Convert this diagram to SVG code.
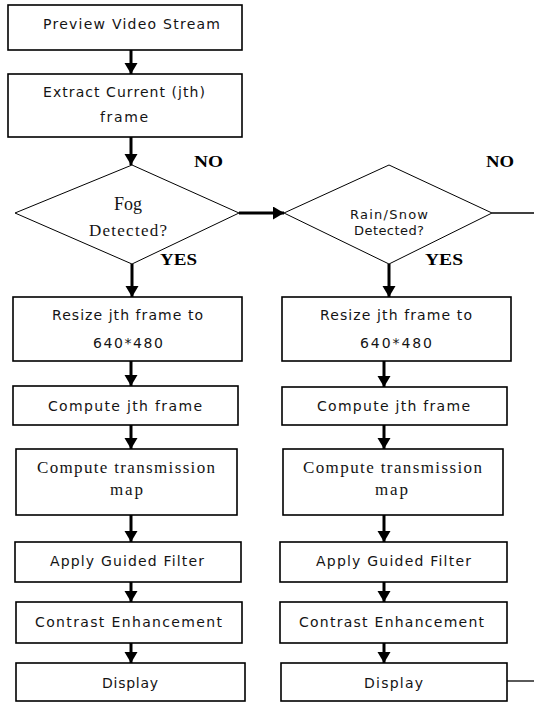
<svg xmlns="http://www.w3.org/2000/svg" width="534" height="702" viewBox="0 0 534 702">
<style>
.box{fill:#fff;stroke:#000;stroke-width:1.6}
.dia{fill:#fff;stroke:#000;stroke-width:1}
.t{font-family:"DejaVu Sans","Liberation Sans",sans-serif;font-size:14px;fill:#141414}
.s{font-family:"Liberation Serif","Times New Roman",serif;font-size:17px;fill:#141414}
.b{font-family:"Liberation Serif","Times New Roman",serif;font-size:16px;font-weight:bold;fill:#000}
.c{stroke:#000;stroke-width:3;fill:none}
.l{stroke:#000;stroke-width:1.3;fill:none}
</style>
<defs>
<marker id="ah" markerUnits="userSpaceOnUse" markerWidth="14" markerHeight="14" refX="11" refY="6.5" orient="auto">
<path d="M0,0 L11,6.5 L0,13 z" fill="#000"/>
</marker>
</defs>
<rect width="534" height="702" fill="#fff"/>
<g id="connectors">
<line class="c" x1="131" y1="50" x2="131" y2="74" marker-end="url(#ah)"/>
<line class="c" x1="131" y1="137" x2="131" y2="165" marker-end="url(#ah)"/>
<line class="c" x1="239" y1="213" x2="284" y2="213" marker-end="url(#ah)"/>
<line class="l" x1="492" y1="213" x2="534" y2="213"/>
<line class="c" x1="132" y1="264" x2="132" y2="297" marker-end="url(#ah)"/>
<line class="c" x1="389" y1="264" x2="389" y2="297" marker-end="url(#ah)"/>
<line class="c" x1="131" y1="361" x2="131" y2="386" marker-end="url(#ah)"/>
<line class="c" x1="384" y1="361" x2="384" y2="387" marker-end="url(#ah)"/>
<line class="c" x1="131" y1="425" x2="131" y2="449" marker-end="url(#ah)"/>
<line class="c" x1="384" y1="425" x2="384" y2="449" marker-end="url(#ah)"/>
<line class="c" x1="131" y1="515" x2="131" y2="542" marker-end="url(#ah)"/>
<line class="c" x1="384" y1="515" x2="384" y2="542" marker-end="url(#ah)"/>
<line class="c" x1="131" y1="582" x2="131" y2="602" marker-end="url(#ah)"/>
<line class="c" x1="384" y1="582" x2="384" y2="602" marker-end="url(#ah)"/>
<line class="c" x1="131" y1="643" x2="131" y2="663" marker-end="url(#ah)"/>
<line class="c" x1="384" y1="643" x2="384" y2="663" marker-end="url(#ah)"/>
<line class="l" x1="507" y1="681" x2="534" y2="681"/>
</g>
<g id="preview">
<rect class="box" x="8" y="5" width="234" height="45"/>
<text class="t" x="43" y="29" textLength="177" lengthAdjust="spacing">Preview Video Stream</text>
</g>
<g id="extract">
<rect class="box" x="8" y="74" width="234" height="63"/>
<text class="t" x="43" y="97" textLength="162" lengthAdjust="spacing">Extract Current (jth)</text>
<text class="t" x="100" y="122" textLength="48" lengthAdjust="spacing">frame</text>
</g>
<g id="fog">
<polygon class="dia" points="132,165 239,213 132,264 15,213"/>
<text class="s" x="128" y="210" text-anchor="middle" style="font-size:18px">Fog</text>
<text class="s" x="89" y="236" textLength="78" lengthAdjust="spacing">Detected?</text>
</g>
<g id="rain">
<polygon class="dia" points="389,165 492,213 389,264 284,213"/>
<text class="t" x="350" y="219" textLength="78" lengthAdjust="spacing" style="font-size:13px">Rain/Snow</text>
<text class="t" x="354" y="235" textLength="70" lengthAdjust="spacing" style="font-size:13px">Detected?</text>
</g>
<g id="labels">
<text class="b" x="194" y="167" textLength="29" lengthAdjust="spacingAndGlyphs">NO</text>
<text class="b" x="486" y="167" textLength="28" lengthAdjust="spacingAndGlyphs">NO</text>
<text class="b" x="160" y="265" textLength="37" lengthAdjust="spacingAndGlyphs">YES</text>
<text class="b" x="425" y="265" textLength="38" lengthAdjust="spacingAndGlyphs">YES</text>
</g>
<g id="resize-l">
<rect class="box" x="13" y="297" width="229" height="64"/>
<text class="t" x="52" y="320" textLength="151" lengthAdjust="spacing">Resize jth frame to</text>
<text class="t" x="93" y="348" textLength="70" lengthAdjust="spacing">640*480</text>
</g>
<g id="computej-l">
<rect class="box" x="13" y="386" width="225" height="39"/>
<text class="t" x="48" y="411" textLength="154" lengthAdjust="spacing">Compute jth frame</text>
</g>
<g id="trans-l">
<rect class="box" x="16" y="449" width="221" height="66"/>
<text class="s" x="37" y="473" textLength="178" lengthAdjust="spacing">Compute transmission</text>
<text class="s" x="110" y="495" textLength="33" lengthAdjust="spacing">map</text>
</g>
<g id="guided-l">
<rect class="box" x="15" y="542" width="226" height="40"/>
<text class="t" x="50" y="566" textLength="154" lengthAdjust="spacing">Apply Guided Filter</text>
</g>
<g id="contrast-l">
<rect class="box" x="16" y="602" width="226" height="41"/>
<text class="t" x="35" y="627" textLength="187" lengthAdjust="spacing">Contrast Enhancement</text>
</g>
<g id="display-l">
<rect class="box" x="16" y="663" width="229" height="38"/>
<text class="t" x="102" y="688" textLength="56" lengthAdjust="spacing">Display</text>
</g>
<g id="resize-r">
<rect class="box" x="282" y="297" width="229" height="64"/>
<text class="t" x="320" y="320" textLength="152" lengthAdjust="spacing">Resize jth frame to</text>
<text class="t" x="360" y="348" textLength="72" lengthAdjust="spacing">640*480</text>
</g>
<g id="computej-r">
<rect class="box" x="282" y="387" width="225" height="38"/>
<text class="t" x="317" y="411" textLength="153" lengthAdjust="spacing">Compute jth frame</text>
</g>
<g id="trans-r">
<rect class="box" x="283" y="449" width="220" height="66"/>
<text class="s" x="303" y="473" textLength="179" lengthAdjust="spacing">Compute transmission</text>
<text class="s" x="375" y="495" textLength="33" lengthAdjust="spacing">map</text>
</g>
<g id="guided-r">
<rect class="box" x="280" y="542" width="227" height="40"/>
<text class="t" x="316" y="566" textLength="155" lengthAdjust="spacing">Apply Guided Filter</text>
</g>
<g id="contrast-r">
<rect class="box" x="280" y="602" width="227" height="41"/>
<text class="t" x="299" y="627" textLength="185" lengthAdjust="spacing">Contrast Enhancement</text>
</g>
<g id="display-r">
<rect class="box" x="281" y="663" width="226" height="38"/>
<text class="t" x="364" y="688" textLength="59" lengthAdjust="spacing">Display</text>
</g>
</svg>
